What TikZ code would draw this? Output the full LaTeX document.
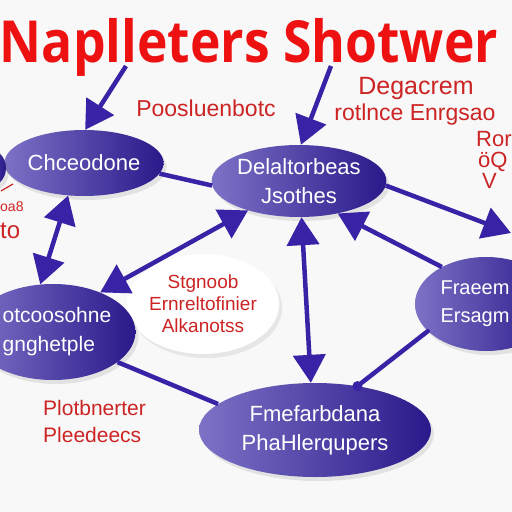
\documentclass[tikz,border=0pt]{standalone}
\usepackage{fontspec}
\setmainfont{Liberation Sans}
\newfontfamily\titlefont{Open Sans}
\usetikzlibrary{arrows.meta,shadows,shapes.geometric}
\definecolor{pl}{HTML}{7C72C6}
\definecolor{pd}{HTML}{29198A}
\definecolor{arr}{HTML}{3A22A6}
\definecolor{tred}{HTML}{EE1111}
\definecolor{lred}{HTML}{CC2424}
\definecolor{bg}{HTML}{F8F8F8}
\tikzset{
  bubble/.style={ellipse, inner sep=0pt, left color=pl, right color=pd, text=white,
    font=\fontsize{22}{29}\selectfont, align=center,
    drop shadow={opacity=0.18, shadow xshift=3pt, shadow yshift=-4pt}},
  wbubble/.style={ellipse, inner sep=0pt, fill=white, text=lred,
    font=\fontsize{19}{24}\selectfont, align=center,
    drop shadow={opacity=0.15, shadow xshift=3pt, shadow yshift=-4pt}},
  lab/.style={text=lred, font=\fontsize{23}{27}\selectfont, inner sep=0pt, align=left},
  conn/.style={draw=arr, line width=4.5pt},
  arrto/.style={conn, -{Triangle[width=32pt,length=28pt]}},
  arrboth/.style={conn, {Triangle[width=32pt,length=28pt]}-{Triangle[width=32pt,length=28pt]}},
}
\begin{document}
\begin{tikzpicture}[x=1pt,y=-1pt]
\useasboundingbox (0,0) rectangle (512,512);
\clip (0,0) rectangle (512,512);
\fill[bg] (0,0) rectangle (512,512);

% title
\node[text=tred, font=\titlefont\bfseries\fontsize{58}{60}\selectfont, inner sep=0pt, text depth=0pt, anchor=base] (title) at (249,62) {\scalebox{0.89}[1]{Naplleters Shotwer}};

% white bubble
\node[wbubble, minimum width=130, minimum height=100] (wc) at (203,304) {Stgnoob\\[-2pt]Ernreltofinier\\[-2pt]Alkanotss};

% purple bubbles
\node[bubble, minimum width=156, minimum height=66] (cheo) at (84,163) {Chceodone};
\node[bubble, minimum width=166, minimum height=72] (delal) at (299,181) {Delaltorbeas\\Jsothes};
\node[bubble, minimum width=152, minimum height=96, align=left, font=\fontsize{21}{29}\selectfont] (ghet) at (53,332) {\hspace*{8pt}otcoosohne\\\hspace*{8pt}gnghetple};
\node[bubble, minimum width=142, minimum height=94, font=\fontsize{20}{28}\selectfont, align=left] (fra) at (486,304) {Fraeem\hspace*{22pt}\\Ersagm\hspace*{22pt}};
\node[bubble, minimum width=232, minimum height=94] (phah) at (315,430) {Fmefarbdana\\PhaHlerqupers};
\node[bubble, minimum width=40, minimum height=40] (offl) at (-14,168) {};

% free ends
\coordinate (s1) at (126,66);
\coordinate (s2) at (331,66);
\coordinate (e4) at (511,233);

% connectors
\draw[arrto] (s1) -- (cheo.88);
\draw[arrto] (s2) -- (delal.87);
\draw[conn] (cheo.-8) -- (delal.183);
\draw[arrto] (delal.-3) -- (e4);
\draw[arrto] (fra.140) -- (delal.-40);
\draw[arrboth] (delal.-86) -- (phah.95);
\draw[arrboth] (cheo.244) -- (ghet.105);
\draw[arrboth] (ghet.40) -- (delal.210);
\draw[conn] (ghet.-25) -- (phah.165);
\draw[conn, line cap=round] (fra.205) -- (phah.46);
\fill[arr] (phah.46) circle (5);

% red labels
\node[lab, anchor=center] (l1) at (206,108) {Poosluenbotc};
\node[lab, anchor=center, font=\fontsize{25}{27}\selectfont] (l2) at (416,88) {Degacrem};
\node[lab, anchor=center] (l3) at (415,115) {rotlnce Enrgsao};
\node[lab, anchor=north west, font=\fontsize{22}{21}\selectfont] (l4) at (476,131) {Ror\\\hspace*{2pt}öQ\\\hspace*{6pt}V};
\node[lab, anchor=west, font=\fontsize{14}{16}\selectfont] (l5) at (0,207) {oa8};
\node[lab, anchor=west, font=\fontsize{24}{26}\selectfont] (l6) at (0,231) {to};
\draw[lred, line width=1.2pt] (1,191) -- (13,184);
\node[lab, anchor=north west, font=\fontsize{21}{27}\selectfont] (l7) at (43,400) {Plotbnerter\\Pleedeecs};
\end{tikzpicture}
\end{document}
